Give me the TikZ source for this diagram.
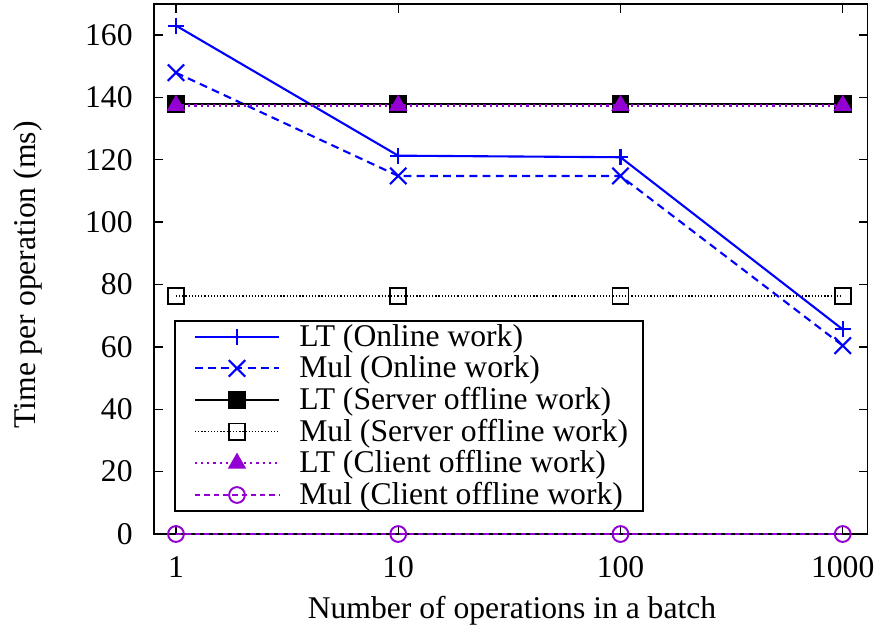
\documentclass[tikz,border=0pt]{standalone}
\usepackage{fontspec}
\setmainfont{Liberation Serif}
\usetikzlibrary{plotmarks}

\definecolor{gpblue}{RGB}{0,0,255}
\definecolor{gpviolet}{RGB}{148,0,211}

\tikzset{
  every node/.style={font=\fontsize{18}{21}\selectfont, inner sep=0pt},
  ltonline/.style={gpblue, line width=1.2pt, mark=+, mark size=4.5pt, mark options={solid}},
  mulonline/.style={gpblue, line width=1.2pt, dash pattern=on 4.5pt off 3pt, mark=x, mark size=6.6pt, mark options={solid}},
  ltserver/.style={black, line width=1.2pt, mark=square*, mark size=4.5pt},
  mulserver/.style={black, line width=0.7pt, dash pattern=on 0.7pt off 1.1pt, mark=square, mark size=4.6pt, mark options={solid, line width=1pt}},
  ltclient/.style={gpviolet, line width=1.2pt, dash pattern=on 1.2pt off 2.3pt, mark=triangle*, mark size=4.9pt, mark options={solid}},
  mulclient/.style={gpviolet, line width=0.9pt, dash pattern=on 3pt off 2.3pt, mark=o, mark size=4.5pt, mark options={solid, line width=1.1pt}}
}

\begin{document}
\begin{tikzpicture}[x=0.02cm, y=0.02cm]
            \useasboundingbox (0,0) rectangle (880,632);

            \begin{scope}[shift={(3.52cm,1.96cm)}, x=4.446cm, y=0.0624cm]
                \draw[line width=0.9pt] (-0.099,0) rectangle (3.112,170);
                \foreach \v in {0,20,...,160} {
                    \draw[line width=0.8pt] (-0.099,\v) -- ++(0.18cm,0);
                    \draw[line width=0.8pt] (3.112,\v) -- ++(-0.18cm,0);
                    \node[anchor=east, xshift=-0.42cm] (yl\v) at (-0.099,\v) {\v};
                }
                \foreach \lab [count=\i from 0] in {1,10,100,1000} {
                    \draw[line width=0.8pt] (\i,0) -- ++(0,0.18cm);
                    \draw[line width=0.8pt] (\i,170) -- ++(0,-0.18cm);
                    \node[yshift=-0.66cm] (xl\i) at (\i,0) {\lab};
                }

                \draw[ltonline] plot coordinates {(0,163) (1,121.3) (2,120.8) (3,65.6)};
                \draw[mulonline] plot coordinates {(0,147.9) (1,114.8) (2,114.8) (3,60.4)};
                \draw[ltserver] plot coordinates {(0,138) (1,138) (2,138) (3,138)};
                \draw[mulserver] plot coordinates {(0,76.3) (1,76.3) (2,76.3) (3,76.3)};
                \draw[ltclient] plot coordinates {(0,137.4) (1,137.4) (2,137.4) (3,137.4)};
                \draw[mulclient] plot coordinates {(0,0) (1,0) (2,0) (3,0)};
            \end{scope}

            \draw[line width=0.8pt] (175,121) rectangle (643,311);
            \foreach \sty/\txt [count=\k from 0] in {ltonline/LT (Online work), mulonline/Mul (Online work), ltserver/LT (Server offline work), mulserver/Mul (Server offline work), ltclient/LT (Client offline work), mulclient/Mul (Client offline work)} {
                \draw[\sty] (195,295.3-31.66*\k) -- (279,295.3-31.66*\k);
                \draw[\sty] plot coordinates {(237,295.3-31.66*\k)};
                \node[anchor=west] (key\k) at (299,293.5-31.66*\k) {\txt};
            }

            \node[anchor=base] (xlabel) at (512,13) {Number of operations in a batch};
            \node[anchor=base, rotate=90] (ylabel) at (36,357) {Time per operation (ms)};
        \end{tikzpicture}
\end{document}
